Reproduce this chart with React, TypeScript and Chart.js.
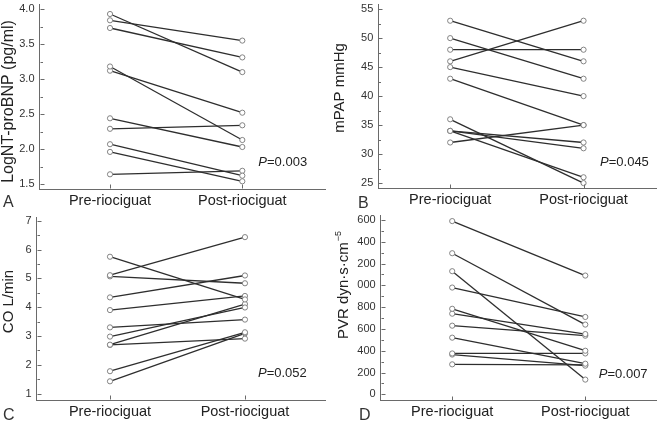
import React, { useEffect, useRef } from "react";
import { Chart, registerables } from "chart.js";

Chart.register(...registerables);

// ---------- data ----------
const categories = ["Pre-riociguat", "Post-riociguat"];

const ntproPre = [3.93, 3.84, 3.73, 3.18, 3.12, 2.44, 2.29, 2.07, 1.96, 1.64];
const ntproPost = [3.10, 3.55, 3.31, 2.13, 2.52, 2.03, 2.34, 1.62, 1.54, 1.69];
const ntproTicks = [1.5, 2.0, 2.5, 3.0, 3.5, 4.0];

const mpapPre = [53, 50, 48, 46, 45, 43, 36, 34, 34, 34, 32];
const mpapPost = [46, 43, 48, 53, 40, 35, 25, 32, 31, 26, 35];
const mpapTicks = [25, 30, 35, 40, 45, 50, 55];

const coPre = [5.75, 5.11, 5.07, 4.34, 3.9, 3.3, 2.98, 2.7, 2.69, 1.78, 1.43];
const coPost = [4.27, 6.43, 4.83, 5.1, 4.39, 3.57, 3.99, 4.11, 2.91, 3.13, 3.09];
const coTicks = [1, 2, 3, 4, 5, 6, 7];

const pvrPre = [1590, 1295, 1130, 980, 785, 740, 630, 520, 375, 365, 275];
const pvrPost = [1090, 640, 135, 710, 400, 553, 538, 281, 375, 263, 270];
const pvrTicks = [0, 200, 400, 600, 800, 1000, 1200, 1400, 1600];
const pvrTickLabels = ["0", "200", "400", "600", "800", "000", "200", "400", "600"];

const pValues = ["0.003", "0.045", "0.052", "0.007"];
const panelLetters = ["A", "B", "C", "D"];
const yTitles = ["LogNT-proBNP (pg/ml)", "mPAP mmHg", "CO L/min", "PVR dyn\u00b7s\u00b7cm"];
const yTitleSup = ["", "", "", "\u22125"];

// ---------- layout / style ----------
const FONT = "'Liberation Sans', Arial, sans-serif";
const LINE_COLOR = "#2e2e2e";
const AXIS_COLOR = "#6a6a6a";
const TEXT_COLOR = "#222";

type Spec = {
  cx: number; cy: number; w: number; h: number;
  area: { l: number; r: number; t: number; b: number };
  xMin: number; xMax: number; yMin: number; yMax: number;
  pre: number[]; post: number[]; ticks: number[];
  tickLabel: (v: number, i: number) => string;
  title: string; sup: string; titleX: number; titleY: number; titleSize: number;
  letter: string; letterX: number; letterY: number;
  pText: string; pOffset: number;
};

const fmt1 = (v: number) => v.toFixed(1);
const fmt0 = (v: number) => String(v);

const specs: Spec[] = [
  {
    cx: 0, cy: 0, w: 330, h: 210,
    area: { l: 39.5, r: 325, t: 3, b: 189 },
    xMin: 0.467, xMax: 2.625, yMin: 1.43, yMax: 4.06,
    pre: ntproPre, post: ntproPost, ticks: ntproTicks,
    tickLabel: (v) => fmt1(v),
    title: yTitles[0], sup: yTitleSup[0], titleX: 9, titleY: 101.5, titleSize: 16,
    letter: panelLetters[0], letterX: 3, letterY: 207,
    pText: pValues[0], pOffset: 16,
  },
  {
    cx: 330, cy: 0, w: 331, h: 210,
    area: { l: 48.3, r: 328, t: 3, b: 188.7 },
    xMin: 0.461, xMax: 2.544, yMin: 24.03, yMax: 55.73,
    pre: mpapPre, post: mpapPost, ticks: mpapTicks,
    tickLabel: (v) => fmt0(v),
    title: yTitles[1], sup: yTitleSup[1], titleX: 10, titleY: 88, titleSize: 15,
    letter: panelLetters[1], letterX: 28, letterY: 208,
    pText: pValues[1], pOffset: 16.5,
  },
  {
    cx: 0, cy: 210, w: 330, h: 211,
    area: { l: 36.7, r: 325, t: 7.3, b: 190 },
    xMin: 0.457, xMax: 2.593, yMin: 0.7815, yMax: 7.118,
    pre: coPre, post: coPost, ticks: coTicks,
    tickLabel: (v) => fmt0(v),
    title: yTitles[2], sup: yTitleSup[2], titleX: 9, titleY: 91.5, titleSize: 15,
    letter: panelLetters[2], letterX: 3, letterY: 210,
    pText: pValues[2], pOffset: 13,
  },
  {
    cx: 330, cy: 210, w: 331, h: 211,
    area: { l: 50.7, r: 328, t: 5, b: 190.7 },
    xMin: 0.4627, xMax: 2.532, yMin: -58.7, yMax: 1645.9,
    pre: pvrPre, post: pvrPost, ticks: pvrTicks,
    tickLabel: (_v, i) => pvrTickLabels[i],
    title: yTitles[3], sup: yTitleSup[3], titleX: 14, titleY: 75, titleSize: 15,
    letter: panelLetters[3], letterX: 29, letterY: 210,
    pText: pValues[3], pOffset: 13.5,
  },
];

function makeDecor(spec: Spec) {
  return {
    id: "decor",
    afterDraw(chart: any) {
      const ctx = chart.ctx as CanvasRenderingContext2D;
      const xs = chart.scales.x;
      const ys = chart.scales.y;
      const { left, bottom } = chart.chartArea;
      const axL = Math.round(left) + 0.5;
      const axB = Math.round(bottom) - 0.5;
      ctx.save();
      ctx.strokeStyle = AXIS_COLOR;
      ctx.lineWidth = 1;
      ctx.beginPath();
      // major y ticks (inward)
      spec.ticks.forEach((v, i) => {
        const py = Math.round(ys.getPixelForValue(v)) + 0.5;
        ctx.moveTo(axL, py);
        ctx.lineTo(axL + 4, py);
        if (i < spec.ticks.length - 1) {
          const mv = (v + spec.ticks[i + 1]) / 2;
          const my = Math.round(ys.getPixelForValue(mv)) + 0.5;
          ctx.moveTo(axL, my);
          ctx.lineTo(axL + 2.5, my);
        }
      });
      // x ticks at categories (inward)
      [1, 2].forEach((v) => {
        const px = Math.round(xs.getPixelForValue(v)) + 0.5;
        ctx.moveTo(px, axB);
        ctx.lineTo(px, axB - 4);
      });
      ctx.stroke();

      // y title (rotated)
      ctx.fillStyle = TEXT_COLOR;
      ctx.save();
      ctx.translate(spec.titleX, spec.titleY);
      ctx.rotate(-Math.PI / 2);
      ctx.font = `${spec.titleSize}px ${FONT}`;
      ctx.textBaseline = "middle";
      const mainW = ctx.measureText(spec.title).width;
      let supW = 0;
      const supFont = `${Math.round(spec.titleSize * 0.62)}px ${FONT}`;
      if (spec.sup) {
        ctx.font = supFont;
        supW = ctx.measureText(spec.sup).width;
      }
      const total = mainW + supW + (spec.sup ? 1 : 0);
      ctx.font = `${spec.titleSize}px ${FONT}`;
      ctx.textAlign = "left";
      ctx.fillText(spec.title, -total / 2, 0);
      if (spec.sup) {
        ctx.font = supFont;
        ctx.fillText(spec.sup, -total / 2 + mainW + 1, -spec.titleSize * 0.38);
      }
      ctx.restore();

      // panel letter
      ctx.font = `16px ${FONT}`;
      ctx.textAlign = "left";
      ctx.textBaseline = "alphabetic";
      ctx.fillStyle = "#333";
      ctx.fillText(spec.letter, spec.letterX, spec.letterY);

      // P value
      const px0 = xs.getPixelForValue(2) + spec.pOffset;
      const py0 = bottom - 23;
      ctx.fillStyle = TEXT_COLOR;
      ctx.font = `italic 13px ${FONT}`;
      ctx.fillText("P", px0, py0);
      const pw = ctx.measureText("P").width;
      ctx.font = `13px ${FONT}`;
      ctx.fillText("=" + spec.pText, px0 + pw, py0);
      ctx.restore();
    },
  };
}

function Panel({ spec }: { spec: Spec }) {
  const ref = useRef<HTMLCanvasElement | null>(null);
  useEffect(() => {
    if (!ref.current) return;
    const s = spec;
    const chart = new Chart(ref.current, {
      type: "line",
      data: {
        datasets: s.pre.map((p, i) => ({
          data: [
            { x: 1, y: p },
            { x: 2, y: s.post[i] },
          ],
          borderColor: LINE_COLOR,
          borderWidth: 1.3,
          pointRadius: 2.6,
          pointBackgroundColor: "#fff",
          pointBorderColor: "#777",
          pointBorderWidth: 0.9,
          fill: false,
          tension: 0,
        })),
      },
      options: {
        animation: false,
        responsive: false,
        devicePixelRatio: 1,
        layout: { padding: { top: s.area.t, right: s.w - s.area.r, left: 0, bottom: 0 } },
        plugins: { legend: { display: false }, tooltip: { enabled: false }, title: { display: false } },
        scales: {
          x: {
            type: "linear",
            min: s.xMin,
            max: s.xMax,
            afterBuildTicks: (sc: any) => {
              sc.ticks = [{ value: 1 }, { value: 2 }];
            },
            afterFit: (sc: any) => {
              sc.height = s.h - s.area.b;
              sc.paddingLeft = 0;
              sc.paddingRight = 0;
            },
            ticks: {
              callback: (v: any) => categories[Math.round(Number(v)) - 1] ?? "",
              font: { family: FONT, size: 14.5 },
              color: TEXT_COLOR,
              padding: 3,
              maxRotation: 0,
              autoSkip: false,
            },
            grid: { display: false, drawTicks: false },
            border: { display: true, color: AXIS_COLOR, width: 1 },
          },
          y: {
            type: "linear",
            min: s.yMin,
            max: s.yMax,
            afterBuildTicks: (sc: any) => {
              sc.ticks = s.ticks.map((v) => ({ value: v }));
            },
            afterFit: (sc: any) => {
              sc.width = s.area.l;
              sc.paddingTop = 0;
              sc.paddingBottom = 0;
            },
            ticks: {
              callback: (v: any, i: number) => s.tickLabel(Number(v), i),
              font: { family: FONT, size: 11 },
              color: "#333",
              padding: 5,
              autoSkip: false,
            },
            grid: { display: false, drawTicks: false },
            border: { display: true, color: AXIS_COLOR, width: 1 },
          },
        },
      },
      plugins: [makeDecor(s)],
    } as any);
    return () => chart.destroy();
  }, [spec]);
  return (
    <canvas
      ref={ref}
      width={spec.w}
      height={spec.h}
      style={{ position: "absolute", left: spec.cx, top: spec.cy, width: spec.w, height: spec.h }}
    />
  );
}

export default function App() {
  return (
    <div style={{ position: "absolute", left: 0, top: 0, width: 661, height: 421, background: "#fff", overflow: "hidden" }}>
      {specs.map((s, i) => (
        <Panel key={i} spec={s} />
      ))}
    </div>
  );
}
